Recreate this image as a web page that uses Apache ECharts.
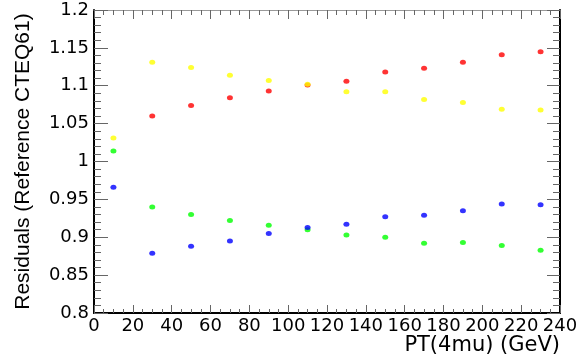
<!DOCTYPE html>
<html>
<head>
<meta charset="utf-8">
<script src="https://cdn.jsdelivr.net/npm/echarts@6/dist/echarts.min.js"></script>
<style>
  html, body { margin: 0; padding: 0; background: #fff; }
  #chart { width: 587px; height: 362px; }
</style>
</head>
<body>
<div id="chart"></div>
<script>
// pt bin centres (GeV)
const ptBins = [10, 30, 50, 70, 90, 110, 130, 150, 170, 190, 210, 230];
// residuals per PDF set (red first bin hidden under green)
const redVals    = [null, 1.060, 1.074, 1.084, 1.093, 1.101, 1.106, 1.118, 1.123, 1.131, 1.141, 1.145];
const greenVals  = [1.014, 0.940, 0.930, 0.922, 0.916, 0.910, 0.903, 0.900, 0.892, 0.893, 0.889, 0.883];
const blueVals   = [0.966, 0.879, 0.888, 0.895, 0.905, 0.913, 0.917, 0.927, 0.929, 0.935, 0.944, 0.943];
const yellowVals = [1.031, 1.131, 1.124, 1.114, 1.107, 1.102, 1.092, 1.092, 1.082, 1.078, 1.069, 1.068];

const toPoints = (vals) => ptBins.map((x, i) => [x, vals[i]]).filter(p => p[1] != null);

const dot = (name, color, vals) => ({
  name: name,
  type: "scatter",
  data: toPoints(vals),
  symbol: "circle",
  symbolSize: [6, 5],
  itemStyle: { color: color },
  xAxisIndex: 0,
  yAxisIndex: 0
});

let myChart = echarts.init(document.getElementById("chart"));
let labelFont = { fontFamily: "DejaVu Sans", fontSize: 18, color: "#000" };

let option = {
  animation: false,
  grid: { left: 94, right: 27, top: 10, bottom: 49 },
  xAxis: [
    {
      type: "value",
      min: 0, max: 240, interval: 20,
      name: "PT(4mu) (GeV)",
      nameLocation: "end",
      nameGap: 0,
      nameTextStyle: {
        fontFamily: "DejaVu Sans", fontSize: 21, color: "#000",
        align: "right", verticalAlign: "top", padding: [22, 0, 0, 0]
      },
      axisLine: { show: true, onZero: false, lineStyle: { color: "#000", width: 2 } },
      axisTick: { show: true, inside: true, length: 8, lineStyle: { color: "#666" } },
      minorTick: { show: true, splitNumber: 4, length: 4, lineStyle: { color: "#666" } },
      axisLabel: Object.assign({ margin: 4 }, labelFont),
      splitLine: { show: false }
    },
    {
      type: "value",
      position: "top",
      min: 0, max: 240, interval: 20,
      axisLine: { show: true, onZero: false, lineStyle: { color: "#999", width: 1 } },
      axisTick: { show: true, inside: true, length: 9, lineStyle: { color: "#666" } },
      minorTick: { show: true, splitNumber: 4, length: 5, lineStyle: { color: "#666" } },
      axisLabel: { show: false },
      splitLine: { show: false }
    }
  ],
  yAxis: [
    {
      type: "value",
      min: 0.8, max: 1.2, interval: 0.05,
      name: "Residuals (Reference CTEQ61)",
      nameLocation: "middle",
      nameGap: 60,
      nameTextStyle: { fontFamily: "Liberation Sans", fontSize: 21, color: "#000" },
      axisLine: { show: true, onZero: false, lineStyle: { color: "#000", width: 2 } },
      axisTick: { show: true, inside: true, length: 14, lineStyle: { color: "#666" } },
      minorTick: { show: true, splitNumber: 5, length: 7, lineStyle: { color: "#666" } },
      axisLabel: Object.assign({ margin: 5 }, labelFont),
      splitLine: { show: false }
    },
    {
      type: "value",
      position: "right",
      min: 0.8, max: 1.2, interval: 0.05,
      axisLine: { show: true, onZero: false, lineStyle: { color: "#000", width: 2 } },
      axisTick: { show: true, inside: true, length: 13, lineStyle: { color: "#666" } },
      minorTick: { show: true, splitNumber: 5, length: 7, lineStyle: { color: "#666" } },
      axisLabel: { show: false },
      splitLine: { show: false }
    }
  ],
  series: [
    dot("red", "#ff0000", redVals),
    dot("green", "#00ff00", greenVals),
    dot("blue", "#0000ff", blueVals),
    dot("yellow", "#ffff00", yellowVals)
  ]
};
myChart.setOption(option);
window.onresize = function() {
  myChart.resize();
};
</script>
</body>
</html>
